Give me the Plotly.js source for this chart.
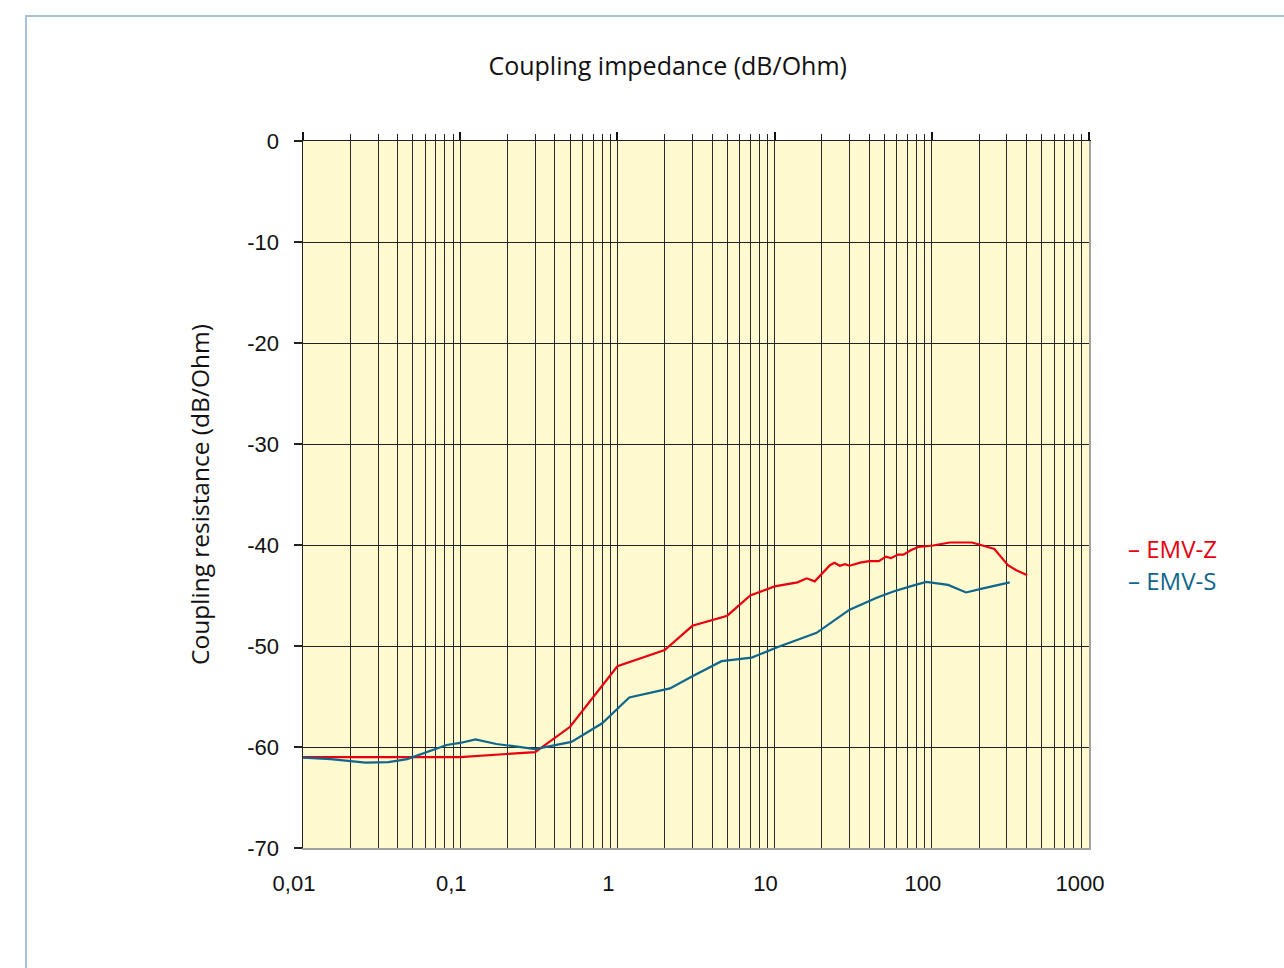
<!DOCTYPE html>
<html>
<head>
<meta charset="utf-8">
<script src="https://cdn.plot.ly/plotly-3.0.1.min.js"></script>
<style>
html,body{margin:0;padding:0;background:#fff;}
#wrap{position:relative;width:1284px;height:968px;overflow:hidden;}
#chart{width:1284px;height:968px;}
#frame{position:absolute;left:25px;top:15px;width:1300px;height:1000px;border:2px solid #a9c1d4;pointer-events:none;box-sizing:border-box;}
</style>
</head>
<body>
<div id="wrap"><div id="chart"></div><div id="frame"></div></div>
<script>
// Data
const seriesNames = ['EMV-Z', 'EMV-S'];
const emvZ_f = [0.01, 0.1, 0.3, 0.5, 1.0, 2.0, 3.0, 5.0, 7.0, 10, 14, 16, 18, 22.5, 24, 26, 28, 30, 35, 40, 46, 51, 55, 61, 66, 74, 82, 93, 102, 130, 180, 200, 250, 305, 345, 405];
const emvZ_db = [-61.0, -61.0, -60.5, -58.0, -52.0, -50.4, -48.0, -47.0, -45.0, -44.1, -43.7, -43.3, -43.6, -42.0, -41.75, -42.05, -41.9, -42.05, -41.75, -41.6, -41.6, -41.15, -41.3, -40.95, -40.95, -40.5, -40.2, -40.1, -40.05, -39.75, -39.75, -39.95, -40.4, -42.0, -42.5, -43.0];
const emvS_f = [0.01, 0.015, 0.025, 0.035, 0.046, 0.056, 0.061, 0.082, 0.1, 0.125, 0.17, 0.3, 0.51, 0.8, 1.19, 2.16, 3.0, 4.6, 7.15, 10.3, 18.5, 30, 45, 57, 73, 92, 127, 165, 212, 313];
const emvS_db = [-61.05, -61.2, -61.55, -61.5, -61.2, -60.7, -60.55, -59.8, -59.6, -59.25, -59.7, -60.2, -59.5, -57.65, -55.1, -54.2, -53.0, -51.5, -51.15, -50.15, -48.7, -46.4, -45.2, -44.6, -44.1, -43.65, -43.95, -44.7, -44.3, -43.7];
const decades = [0.01, 0.1, 1, 10, 100, 1000];
const decadeLabels = ['0,01', '0,1', '1', '10', '100', '1000'];
const yTicks = [0, -10, -20, -30, -40, -50, -60, -70];
const yTickLabels = ['0', '-10', '-20', '-30', '-40', '-50', '-60', '-70'];
const colors = ['#e8000f', '#0f668c'];

// build minor tick values (1..9 multiples of each decade)
const allTicks = [];
const allLabels = [];
decades.forEach((d, i) => {
  if (i === decades.length - 1) { allTicks.push(d); allLabels.push(decadeLabels[i]); return; }
  for (let m = 1; m <= 9; m++) {
    allTicks.push(+(d * m).toPrecision(3));
    allLabels.push(m === 1 ? decadeLabels[i] : '');
  }
});
const minorTicks = allTicks.filter(v => decades.indexOf(v) < 0);

const xr = [Math.log10(decades[0]), Math.log10(decades[decades.length - 1])];

const traces = [
  {x: emvZ_f, y: emvZ_db, name: seriesNames[0], type: 'scatter', mode: 'lines', line: {color: colors[0], width: 2.2}, xaxis: 'x', yaxis: 'y'},
  {x: emvS_f, y: emvS_db, name: seriesNames[1], type: 'scatter', mode: 'lines', line: {color: colors[1], width: 2.2}, xaxis: 'x', yaxis: 'y'}
];

const tickFont = {family: 'Arial', size: 22, color: '#111'};

const layout = {
  width: 1284, height: 968,
  margin: {l: 303, r: 195, t: 141, b: 120, pad: 0},
  paper_bgcolor: '#ffffff',
  plot_bgcolor: '#fff9cf',
  showlegend: false,
  title: {text: 'Coupling impedance (dB/Ohm)', x: 0.52, xanchor: 'center', y: 0.932, yanchor: 'middle', font: {family: 'Open Sans', size: 25, color: '#111'}},
  xaxis: {
    type: 'log', range: xr, tickmode: 'array', tickvals: allTicks, ticktext: allLabels,
    showgrid: true, gridcolor: '#2a2a2a', gridwidth: 1, zeroline: false,
    showline: true, linecolor: '#a0a0a0', linewidth: 2,
    ticks: '', tickfont: tickFont, ticklabelstandoff: 15, ticklabelshift: -9
  },
  xaxis2: {
    type: 'log', range: xr, overlaying: 'x', matches: 'x', side: 'top', anchor: 'y',
    tickmode: 'array', tickvals: minorTicks, ticks: 'outside', ticklen: 6, tickcolor: '#222', tickwidth: 1,
    showticklabels: false, showgrid: false, zeroline: false, showline: true, linecolor: '#222', linewidth: 1
  },
  xaxis3: {
    type: 'log', range: xr, overlaying: 'x', matches: 'x', side: 'top', anchor: 'y',
    tickmode: 'array', tickvals: decades, ticks: 'outside', ticklen: 8, tickcolor: '#111', tickwidth: 2,
    showticklabels: false, showgrid: false, zeroline: false, showline: false
  },
  yaxis: {
    range: [-70, 0], tickmode: 'array', tickvals: yTicks, ticktext: yTickLabels,
    showgrid: true, gridcolor: '#222', gridwidth: 1, zeroline: false,
    showline: true, linecolor: '#222', linewidth: 1.5,
    ticks: 'outside', ticklen: 8, tickcolor: '#222', tickwidth: 1.5,
    tickfont: tickFont, ticklabelstandoff: 10,
    title: {text: 'Coupling resistance (dB/Ohm)', standoff: 30, font: {family: 'Open Sans', size: 24.5, color: '#111'}}
  },
  yaxis2: {
    range: [-70, 0], overlaying: 'y', matches: 'y', side: 'right', anchor: 'x',
    showticklabels: false, showgrid: false, zeroline: false, ticks: '',
    showline: true, linecolor: '#a0a0a0', linewidth: 2
  },
  annotations: seriesNames.map((n, i) => ({
    xref: 'paper', yref: 'paper', x: 1.047, y: 0.424 - i * 0.045, xanchor: 'left', yanchor: 'middle',
    text: '\u2013 ' + n, showarrow: false, font: {family: 'Open Sans', size: 24, color: colors[i]}
  }))
};

// invisible helper traces so the overlay axes are drawn
traces.push({x: emvZ_f, y: emvZ_db, xaxis: 'x2', yaxis: 'y', mode: 'lines', line: {width: 0}, hoverinfo: 'skip', showlegend: false, opacity: 0});
traces.push({x: emvZ_f, y: emvZ_db, xaxis: 'x3', yaxis: 'y2', mode: 'lines', line: {width: 0}, hoverinfo: 'skip', showlegend: false, opacity: 0});

Plotly.newPlot('chart', traces, layout, {displayModeBar: false, staticPlot: true});
</script>
</body>
</html>
